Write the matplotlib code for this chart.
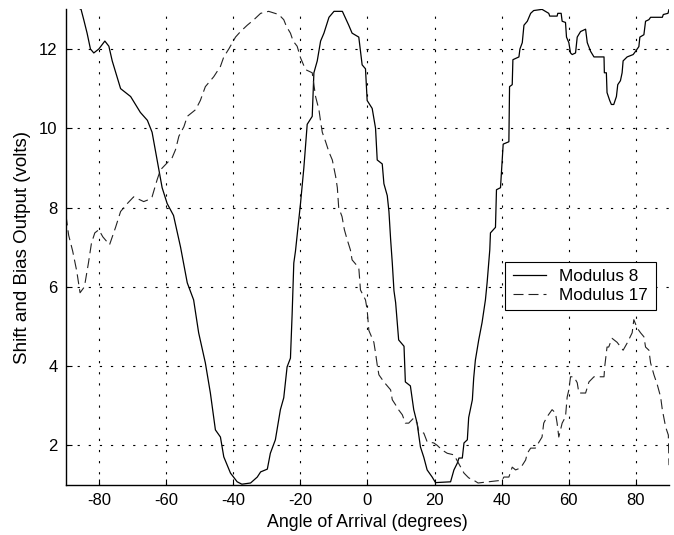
import matplotlib
matplotlib.use("Agg")
import matplotlib.pyplot as plt

# Modulus 8 (solid)
mod8_x = [-90, -85.5, -84.7, -83.7, -82.7, -81.7, -80.2, -78.4, -77.2, -76.2, -73.7, -70.7, -67.8,
          -65.7, -64.3, -62.8, -61.3, -59.8, -57.9, -55.8, -53.8, -51.9, -50.4, -48.4, -46.9,
          -45.4, -43.9, -42.9, -40.9, -38.9, -37.5, -34.9, -32.9, -31.9, -29.9, -29, -27.5,
          -26, -25, -24, -23, -22.5, -22, -21.5, -20, -19, -18, -16.5, -16, -15, -14, -13,
          -11.5, -10, -7.5, -5.6, -4.6, -2.6, -1.6, -0.6, -0.1, 1.4, 2.4, 2.9, 4.4, 4.9, 5.9,
          6.4, 6.9, 7.4, 7.9, 8.4, 9.3, 10.9, 11.3, 12.8, 13.8, 14.8, 15.8, 16.8, 17.8, 19.3,
          20.3, 24.8, 25.8, 26.8, 27.3, 28.3, 28.8, 29.8, 30.2, 31.3, 31.7, 32.2, 33.2, 34.2,
          35.2, 35.7, 36.5, 36.7, 38.2, 38.5, 39.7, 40.0, 40.5, 42.2, 42.4, 43.2, 43.4, 45.2,
          45.5, 46.2, 46.7, 47.7, 48.7, 49.6, 52.1, 53.1, 54.1, 54.4, 56.6, 56.8, 57.8, 58.1,
          59.1, 59.4, 60.1, 60.6, 61.1, 62.1, 62.6, 63.6, 65.1, 65.6, 66.6, 67.6, 69.1, 70.6,
          70.7, 71.3, 71.5, 72.3, 72.8, 73.5, 74.3, 74.7, 75.5, 76.0, 76.3, 77.5, 79.3, 80.0,
          81.0, 81.3, 82.5, 83.0, 84.0, 84.5, 86.5, 88.0, 88.3, 89.7, 90]
mod8_y = [13.2, 13.0, 12.74, 12.4, 12.0, 11.9, 12.0, 12.2, 12.07, 11.7, 11.0, 10.8, 10.4,
          10.2, 9.9, 9.2, 8.5, 8.1, 7.8, 7.0, 6.1, 5.67, 4.84, 4.08, 3.32,
          2.39, 2.21, 1.71, 1.30, 1.08, 1.02, 1.05, 1.2, 1.33, 1.4, 1.8, 2.14,
          2.9, 3.2, 3.98, 4.2, 5.3, 6.6, 6.9, 8.1, 9.0, 10.1, 10.3, 11.4, 11.7, 12.2, 12.4,
          12.8, 12.95, 12.95, 12.6, 12.4, 12.3, 11.6, 11.5, 10.7, 10.5, 10.0, 9.2, 9.1, 8.6, 8.3,
          7.9, 7.2, 6.6, 5.9, 5.6, 4.66, 4.5, 3.6, 3.5, 2.9, 2.56, 1.96, 1.7, 1.38, 1.2,
          1.06, 1.08, 1.38, 1.55, 1.68, 1.68, 2.06, 2.14, 2.7, 3.15, 3.7, 4.15, 4.66, 5.1,
          5.67, 6.1, 6.93, 7.36, 7.5, 8.45, 8.5, 8.9, 9.6, 9.66, 11.05, 11.1, 11.73, 11.8,
          12.0, 12.16, 12.6, 12.7, 12.9, 12.97, 13.0, 12.95, 12.9, 12.83, 12.83, 12.9, 12.9, 12.7,
          12.67, 12.3, 12.16, 11.9, 11.86, 11.9, 12.3, 12.44, 12.5, 12.16, 11.94, 11.8, 11.8, 11.8,
          11.4, 11.4, 10.9, 10.7, 10.6, 10.6, 10.8, 11.1, 11.2, 11.4, 11.7, 11.8, 11.86, 11.94,
          12.06, 12.3, 12.36, 12.7, 12.74, 12.8, 12.8, 12.8, 12.87, 12.9, 13.0]

# Modulus 17 (dashed)
mod17_x = [-90, -89.2, -88.0, -86.8, -85.8, -84.5, -83.3, -82.4, -81.4, -80.2, -79.0, -77.0,
           -75.2, -73.7, -71.7, -69.8, -66.8, -65.3, -64.3, -62.8, -61.8, -58.3, -57.3, -56.3,
           -54.8, -53.8, -51.3, -49.9, -48.4, -45.9, -43.9, -42.9, -41.4, -39.4, -37.9, -35.9,
           -33.9, -31.9, -29.5, -26.5, -25, -24.2, -23, -22.2, -21, -20, -18.5, -16.5, -15.5,
           -14.5, -14, -13.5, -12.5, -11.5, -10.5, -9.5, -9, -8.6, -7.6, -6.9, -6.1, -5.1,
           -4.6, -2.6, -2.1, -0.6, -0.1, 0.4, 1.9, 2.4, 2.9, 3.4, 4.9, 5.9, 6.9, 7.4, 8.4,
           8.9, 10.4, 11.3, 12.3, 13.8, 14.8, 15.3, 16.8, 17.8, 19.8, 20.8, 22.3, 23.8, 25.8,
           28.8, 30.2, 31.7, 33.0, 40.2, 40.7, 42.2, 43.2, 44.2, 45.7, 47.2, 47.7, 48.7, 50.1,
           51.6, 52.1, 52.6, 53.6, 55.1, 56.1, 56.6, 57.1, 58.1, 59.1, 59.6, 60.1, 60.6, 61.6,
           62.6, 63.1, 65.1, 66.1, 67.6, 70.6, 70.8, 71.5, 72.0, 73.0, 74.5, 76.3, 77.5, 79.0,
           79.5, 80.5, 81.5, 82.5, 83.0, 84.0, 84.5, 85.5, 86.5, 87.5, 88.0, 89.0, 89.8, 90]
mod17_y = [7.8, 7.3, 6.9, 6.4, 5.85, 6.0, 6.6, 7.1, 7.36, 7.44, 7.26, 7.06,
           7.5, 7.9, 8.1, 8.27, 8.15, 8.2, 8.27, 8.7, 8.95, 9.26, 9.46, 9.8,
           10.04, 10.3, 10.47, 10.7, 11.05, 11.3, 11.56, 11.8, 12.0, 12.3, 12.44, 12.6,
           12.74, 12.9, 12.95, 12.87, 12.74, 12.57, 12.4, 12.2, 12.07, 11.78, 11.48, 11.4, 10.8,
           10.47, 10.17, 9.9, 9.66, 9.4, 9.2, 8.78, 8.5, 8.0, 7.77, 7.44, 7.2, 6.93,
           6.68, 6.48, 5.92, 5.67, 5.42, 4.9, 4.6, 4.33, 4.03, 3.78, 3.6, 3.5, 3.4, 3.15, 3.02,
           2.94, 2.77, 2.56, 2.56, 2.69, 2.56, 2.34, 2.31, 2.09, 2.06, 2.0, 1.88, 1.8, 1.76,
           1.3, 1.18, 1.12, 1.05, 1.12, 1.2, 1.2, 1.45, 1.38, 1.43, 1.63, 1.8, 1.93, 1.93,
           2.14, 2.21, 2.56, 2.72, 2.9, 2.82, 2.56, 2.21, 2.56, 2.72, 3.22, 3.4, 3.73, 3.73,
           3.58, 3.32, 3.32, 3.6, 3.73, 3.73, 3.98, 4.48, 4.48, 4.7, 4.6, 4.4, 4.58, 4.84,
           5.17, 4.96, 4.84, 4.74, 4.48, 4.4, 4.08, 3.78, 3.53, 3.22, 2.9, 2.46, 2.26, 1.5]

x_ticks = [-80, -60, -40, -20, 0, 20, 40, 60, 80]
y_ticks = [2, 4, 6, 8, 10, 12]
series_labels = ["Modulus 8", "Modulus 17"]

plt.rcParams['font.family'] = ['Liberation Sans', 'DejaVu Sans']
plt.rcParams['axes.unicode_minus'] = False

fig = plt.figure(figsize=(6.74, 5.35), dpi=100)
ax = fig.add_axes([0.0979, 0.0935, 0.8947, 0.889])

ax.plot(mod8_x, mod8_y, color='black', lw=0.9, linestyle='-', label=series_labels[0])
ax.plot(mod17_x, mod17_y, color='#222222', lw=0.8, linestyle=(0, (9, 4.5)), label=series_labels[1])

ax.set_xlim(-90, 90)
ax.set_ylim(1, 13)
ax.set_xticks(x_ticks)
ax.set_yticks(y_ticks)
ax.grid(True, color='black', linestyle=(0, (2, 8)), lw=0.8)

for side in ['top', 'right']:
    ax.spines[side].set_visible(False)
for side in ['left', 'bottom']:
    ax.spines[side].set_linewidth(1.0)

ax.tick_params(direction='in', length=4, width=0.8, labelsize=12)
ax.tick_params(axis='x', pad=6)
ax.tick_params(axis='y', pad=6)

ax.set_xlabel('Angle of Arrival (degrees)', fontsize=12.8, labelpad=4)
ax.set_ylabel('Shift and Bias Output (volts)', fontsize=13.5, labelpad=6)

leg = ax.legend(loc='upper right', bbox_to_anchor=(0.978, 0.4695), fontsize=12.3,
                frameon=True, fancybox=False, edgecolor='black', framealpha=1,
                handlelength=1.9, borderpad=0.45, labelspacing=0.2, handletextpad=0.8,
                borderaxespad=0)
leg.get_frame().set_linewidth(0.8)

fig.savefig('out.png', dpi=100)
